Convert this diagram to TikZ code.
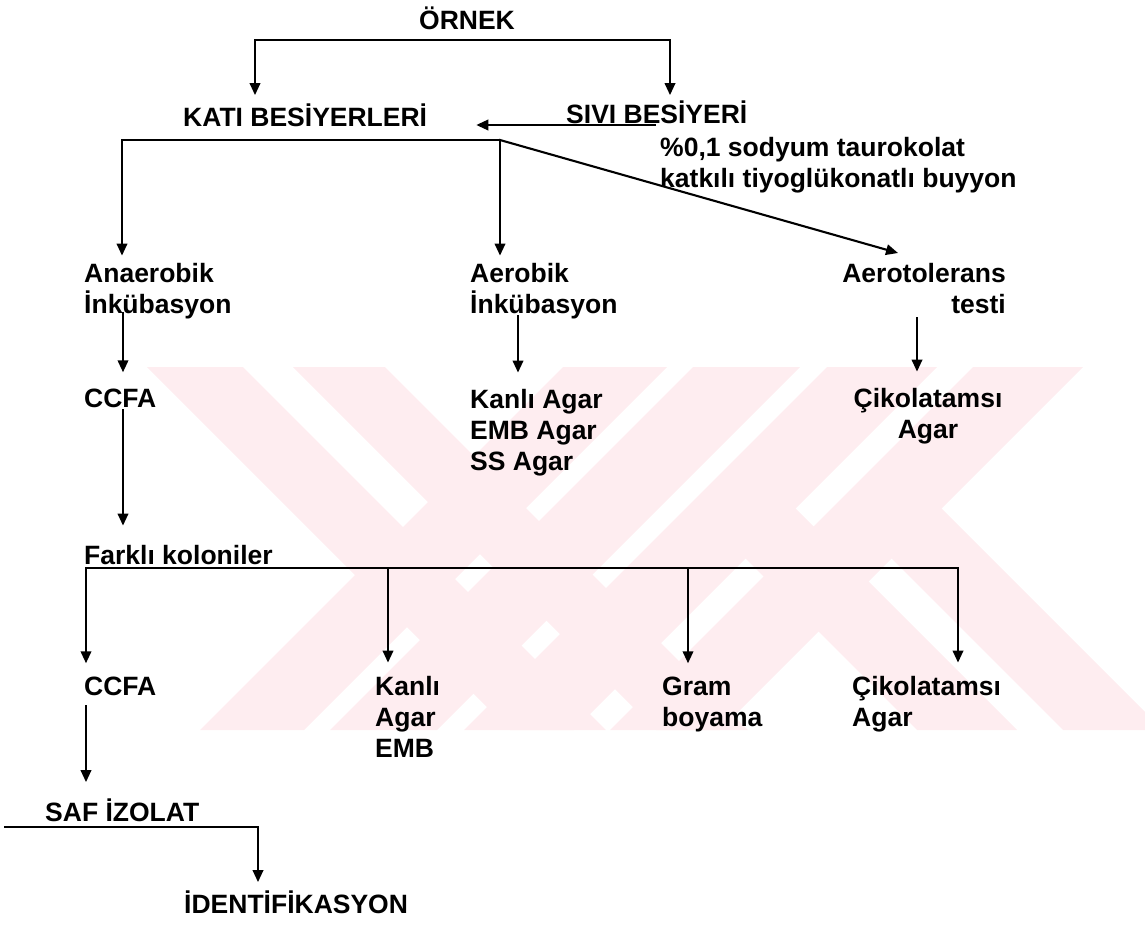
\documentclass[tikz,border=0pt]{standalone}
\usepackage{fontspec}
\setmainfont{Liberation Sans}
\usetikzlibrary{arrows.meta, % for the triangle tips
                calc,
                positioning}
\definecolor{wmpink}{RGB}{254,237,240}

\begin{document}
\begin{tikzpicture}[x=1pt, y=-1pt,
                    txt/.style={font=\bfseries\fontsize{26.5}{31}\selectfont, inner sep=0pt, anchor=base west, align=left},
                    flow/.style={line width=2.1pt, line cap=rect},
                    arr/.style={flow, -{Triangle[length=12pt, width=10.5pt]}},
                    stripe/.style={fill=wmpink, draw=none}
                    ]

    \useasboundingbox (0,0) rectangle (1145,924);

    % WATERMARK %
    \begin{scope}
    \clip (0,367) rectangle (1145,730);
    \foreach \a/\w in {147/96, 293/92}
        \fill[stripe] (\a,367) -- ++(\w,0) -- ++(363,363) -- ++(-\w,0) -- cycle;
    \foreach \a/\w in {563/104, 693/107, 827/110, 973/110}
        \fill[stripe] (\a,367) -- ++(\w,0) -- ++(-363,363) -- ++(-\w,0) -- cycle;
    \foreach \a in {692, 838}
        \fill[stripe] (\a,505) -- ++(100,0) -- ++(225,225) -- ++(-100,0) -- cycle;
    \end{scope}

    % TEXTS (multi-line nodes sit on their last baseline) %
    \node[txt, anchor=base] (ornek) at (467,29) {ÖRNEK};
    \node[txt] (kati) at (183,126) {KATI BESİYERLERİ};
    \node[txt] (sivi) at (566,123) {SIVI BESİYERİ};
    \node[txt] (katki) at (660,187) {\%0,1 sodyum taurokolat\\katkılı tiyoglükonatlı buyyon};

    \node[txt] (anaer) at (84,313) {Anaerobik\\İnkübasyon};
    \node[txt] (aerob) at (470,313) {Aerobik\\İnkübasyon};
    \node[txt, anchor=base east, align=right] (aerot) at (1006,313) {Aerotolerans\\testi};

    \node[txt] (ccfaA) at (84,407) {CCFA};
    \node[txt] (agars) at (470,470) {Kanlı Agar\\EMB Agar\\SS Agar};
    \node[txt, anchor=base, align=center] (cikA) at (928,438) {Çikolatamsı\\Agar};

    \node[txt] (farkli) at (84,564) {Farklı koloniler};

    \node[txt] (ccfaB) at (84,695) {CCFA};
    \node[txt] (kanli) at (375,757) {Kanlı\\Agar\\EMB};
    \node[txt] (gram) at (662,726) {Gram\\boyama};
    \node[txt] (cikB) at (852,726) {Çikolatamsı\\Agar};

    \node[txt] (saf) at (45,821) {SAF İZOLAT};
    \node[txt] (ident) at (184,913) {İDENTİFİKASYON};

    % TOP BRACKET %
    \coordinate (brL) at (255,40);
    \coordinate (brR) at (670,40);
    \draw[arr, shorten >=8pt] (brR) -- (brL) -- (brL |- kati.north);
    \draw[arr, shorten >=5pt] (brL) -- (brR) -- (brR |- sivi.north);

    % SIVI TO KATI %
    \coordinate (svS) at (655,125);
    \draw[arr, shorten >=49pt] (svS) -- (svS -| kati.east);

    % KATI BUS %
    \coordinate (kL) at (122,140);
    \coordinate (kR) at (500,140);
    \coordinate (dT) at (898,253);
    \draw[arr, shorten >=7pt] (kR) -- (kL) -- (kL |- anaer.north);
    \draw[arr, shorten >=7pt] (kL) -- (kR) -- (kR |- aerob.north);
    \draw[arr] (kR) -- (dT);

    % INCUBATION ARROWS %
    \coordinate (cA) at (123,313);
    \coordinate (cB) at (518,316);
    \coordinate (cC) at (917,318);
    \coordinate (cD) at (123,410);
    \draw[arr, shorten >=16pt] (cA) -- (cA |- ccfaA.north);
    \draw[arr, shorten >=16pt] (cB) -- (cB |- agars.north);
    \draw[arr, shorten >=16pt] (cC) -- (cC |- cikA.north);
    \draw[arr, shorten >=19pt] (cD) -- (cD |- farkli.north);

    % COLONY BUS %
    \coordinate (fL) at (86,568);
    \coordinate (f2) at (388,568);
    \coordinate (f3) at (688,568);
    \coordinate (fR) at (958,568);
    \draw[flow, line width=2.4pt] (fL) -- (fR);
    \foreach \c/\n in {fL/ccfaB, f2/kanli, f3/gram, fR/cikB}
        \draw[arr, shorten >=13pt] (\c) -- (\c |- \n.north);

    % ISOLATE %
    \coordinate (eA) at (86,706);
    \coordinate (sL) at (5,827);
    \coordinate (sR) at (258,827);
    \draw[arr, shorten >=16pt] (eA) -- (eA |- saf.north);
    \draw[arr, shorten >=8pt] (sL) -- (sR) -- (sR |- ident.north);
\end{tikzpicture}
\end{document}
